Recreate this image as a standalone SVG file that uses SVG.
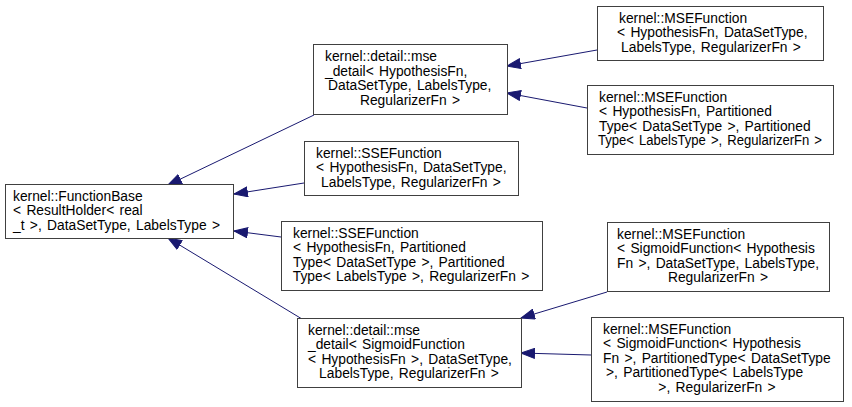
<svg xmlns="http://www.w3.org/2000/svg" width="852" height="407" viewBox="0 0 852 407">
<style>
.box{fill:#ffffff;stroke:#404040;stroke-width:1}
.t{font-family:"Liberation Sans",Arial,sans-serif;font-size:13.8px;word-spacing:1.5px;fill:#000000}
.c{text-anchor:middle}
.e{fill:none;stroke:#191970;stroke-width:1}
</style>
<defs>
<marker id="ah" markerUnits="userSpaceOnUse" markerWidth="15" markerHeight="11" refX="14" refY="5.5" orient="auto">
<path d="M0.5,0.5 L14,5.5 L0.5,10.5 z" fill="#191970" stroke="#191970" stroke-width="1"/>
</marker>
</defs>
<rect width="852" height="407" fill="#ffffff"/>
<g id="connectors">
<path class="e" d="M314,115 L168,185" marker-end="url(#ah)"/>
<path class="e" d="M304,183 L234,194" marker-end="url(#ah)"/>
<path class="e" d="M281,237 L234,231" marker-end="url(#ah)"/>
<path class="e" d="M302,319 L168,238" marker-end="url(#ah)"/>
<path class="e" d="M597,50 L507,66" marker-end="url(#ah)"/>
<path class="e" d="M587,108 L507,93" marker-end="url(#ah)"/>
<path class="e" d="M607,292 L521,318" marker-end="url(#ah)"/>
<path class="e" d="M591,355 L521,353" marker-end="url(#ah)"/>
</g>
<g id="FunctionBase">
<rect class="box" x="5.5" y="184.5" width="228" height="54"/>
<text class="t" x="13" y="200.5">kernel::FunctionBase</text>
<text class="t" x="13" y="215">&lt; ResultHolder&lt; real</text>
<text class="t" x="13" y="229.5">_t &gt;, DataSetType, LabelsType &gt;</text>
</g>
<g id="mse_detail">
<rect class="box" x="313.5" y="44.5" width="194" height="70"/>
<text class="t" x="325" y="61">kernel::detail::mse</text>
<text class="t" x="325" y="75.5">_detail&lt; HypothesisFn,</text>
<text class="t" x="328" y="90">DataSetType, LabelsType,</text>
<text class="t c" x="410" y="104.5">RegularizerFn &gt;</text>
</g>
<g id="MSEFunction1">
<rect class="box" x="597.5" y="6.5" width="226" height="54"/>
<text class="t" x="619" y="22.5">kernel::MSEFunction</text>
<text class="t" x="617" y="37">&lt; HypothesisFn, DataSetType,</text>
<text class="t c" x="711" y="51.5">LabelsType, RegularizerFn &gt;</text>
</g>
<g id="MSEFunction2">
<rect class="box" x="587.5" y="85.5" width="246" height="69"/>
<text class="t" x="599" y="101.5">kernel::MSEFunction</text>
<text class="t" x="599" y="116">&lt; HypothesisFn, Partitioned</text>
<text class="t" x="599" y="130.5">Type&lt; DataSetType &gt;, Partitioned</text>
<text class="t c" x="710" y="145" textLength="224" lengthAdjust="spacingAndGlyphs">Type&lt; LabelsType &gt;, RegularizerFn &gt;</text>
</g>
<g id="SSEFunction1">
<rect class="box" x="304.5" y="141.5" width="214" height="54"/>
<text class="t" x="316" y="157.5">kernel::SSEFunction</text>
<text class="t" x="316" y="172">&lt; HypothesisFn, DataSetType,</text>
<text class="t c" x="411" y="186.5">LabelsType, RegularizerFn &gt;</text>
</g>
<g id="SSEFunction2">
<rect class="box" x="281.5" y="221.5" width="261" height="69"/>
<text class="t" x="293" y="237.5">kernel::SSEFunction</text>
<text class="t" x="293" y="252">&lt; HypothesisFn, Partitioned</text>
<text class="t" x="293" y="266.5">Type&lt; DataSetType &gt;, Partitioned</text>
<text class="t c" x="411" y="281">Type&lt; LabelsType &gt;, RegularizerFn &gt;</text>
</g>
<g id="mse_detail_sigmoid">
<rect class="box" x="297.5" y="318.5" width="224" height="69"/>
<text class="t" x="308" y="334.5">kernel::detail::mse</text>
<text class="t" x="308" y="349">_detail&lt; SigmoidFunction</text>
<text class="t" x="308" y="363.5">&lt; HypothesisFn &gt;, DataSetType,</text>
<text class="t c" x="409" y="378">LabelsType, RegularizerFn &gt;</text>
</g>
<g id="MSEFunction3">
<rect class="box" x="607.5" y="222.5" width="222" height="69"/>
<text class="t" x="617" y="238.5">kernel::MSEFunction</text>
<text class="t" x="617" y="253">&lt; SigmoidFunction&lt; Hypothesis</text>
<text class="t" x="617" y="267.5">Fn &gt;, DataSetType, LabelsType,</text>
<text class="t c" x="718" y="282">RegularizerFn &gt;</text>
</g>
<g id="MSEFunction4">
<rect class="box" x="591.5" y="317.5" width="252" height="84"/>
<text class="t" x="603" y="333.5">kernel::MSEFunction</text>
<text class="t" x="603" y="348">&lt; SigmoidFunction&lt; Hypothesis</text>
<text class="t" x="603" y="362.5">Fn &gt;, PartitionedType&lt; DataSetType</text>
<text class="t" x="606" y="377">&gt;, PartitionedType&lt; LabelsType</text>
<text class="t c" x="717" y="391.5">&gt;, RegularizerFn &gt;</text>
</g>
</svg>
